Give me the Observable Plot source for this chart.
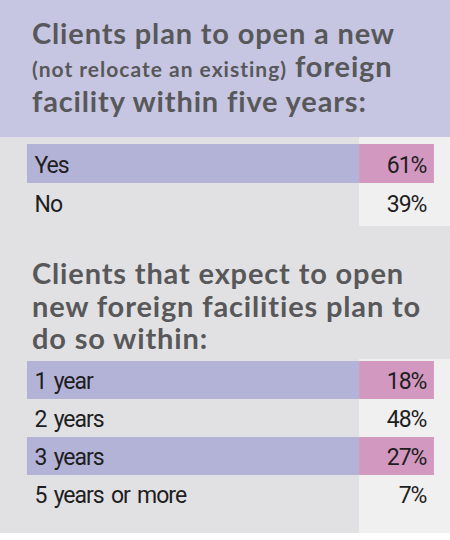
<!DOCTYPE html>
<html>
<head>
<meta charset="utf-8">
<script src="https://cdn.jsdelivr.net/npm/d3@7"></script>
<script src="https://cdn.jsdelivr.net/npm/@observablehq/plot@0.6"></script>
<style>
  html, body { margin: 0; padding: 0; background: #ffffff; }
  #root { position: relative; width: 450px; height: 540px; background: #ffffff; overflow: hidden; }
  .band { position: absolute; left: 0; width: 450px; }
  .title { position: absolute; left: 32px; font-family: Lato, "Noto Sans", sans-serif; font-weight: 700;
           font-size: 29px; line-height: 32.5px; color: #58585a; white-space: nowrap; letter-spacing: 0.85px; }
  .title .small { font-size: 21px; font-weight: 700; letter-spacing: 1px; }
  .chart svg { display: block; }
</style>
</head>
<body>
<div id="root">
  <div class="band" style="top:0;height:137px;background:#c6c6e2;">
    <div class="title" style="top:17px;">Clients plan to open a new<br><span class="small">(not relocate an existing)</span> foreign<br>facility within five years:</div>
  </div>
  <div class="band chart" id="s1" style="top:137px;height:89px;background:#e1e1e3;"></div>
  <div class="band" style="top:226px;height:133px;background:#e1e1e3;">
    <div class="title" style="top:31px;">Clients that expect to open<br>new foreign facilities plan to<br>do so within:</div>
  </div>
  <div class="band chart" id="s2" style="top:359px;height:174px;background:#e1e1e3;"></div>
</div>
<script>
// ---- data ----
const planLabels = ["Yes", "No"];
const planValues = [61, 39];
const planHighlight = [true, false];

const timeLabels = ["1 year", "2 years", "3 years", "5 years or more"];
const timeValues = [18, 48, 27, 7];
const timeHighlight = [true, false, true, false];

// ---- style ----
const PURPLE = "#b3b3d8";
const PINK = "#d398c0";
const LIGHT = "#f0f0f0";
const TEXT = "#1e1e1e";
const SPLIT = 0.785;   // start of value column (fraction of x domain)
const END = 0.962;     // right edge of rows
const FONT = "Roboto, sans-serif";

function table(labels, values, highlight, height, yRange) {
  const rows = labels.map((label, i) => ({label, value: values[i], hl: highlight[i]}));
  const hl = rows.filter(d => d.hl);
  return Plot.plot({
    width: 450,
    height,
    marginLeft: 27,
    marginRight: 0,
    marginTop: 0,
    marginBottom: 0,
    x: {domain: [0, 1], axis: null},
    y: {domain: labels, range: yRange, padding: 0, axis: null},
    style: {background: "transparent", fontFamily: FONT, overflow: "visible",
            letterSpacing: "-1px", wordSpacing: "2.5px"},
    marks: [
      Plot.barX([0], {x1: SPLIT, x2: 1, fill: LIGHT}),
      Plot.barX(hl, {x1: 0, x2: SPLIT, y: "label", fill: PURPLE}),
      Plot.barX(hl, {x1: SPLIT, x2: END, y: "label", fill: PINK}),
      Plot.text(rows, {y: "label", text: "label", frameAnchor: "left", textAnchor: "start",
        dx: 7, dy: 1.5, fontSize: 23, fill: TEXT}),
      Plot.text(rows, {x: END, y: "label", text: d => d.value + "%", textAnchor: "end",
        dx: -8, dy: 1.5, fontSize: 23, fill: TEXT})
    ]
  });
}

document.getElementById("s1").appendChild(table(planLabels, planValues, planHighlight, 89, [7, 85]));
document.getElementById("s2").appendChild(table(timeLabels, timeValues, timeHighlight, 174, [0, 155]));
</script>
</body>
</html>
